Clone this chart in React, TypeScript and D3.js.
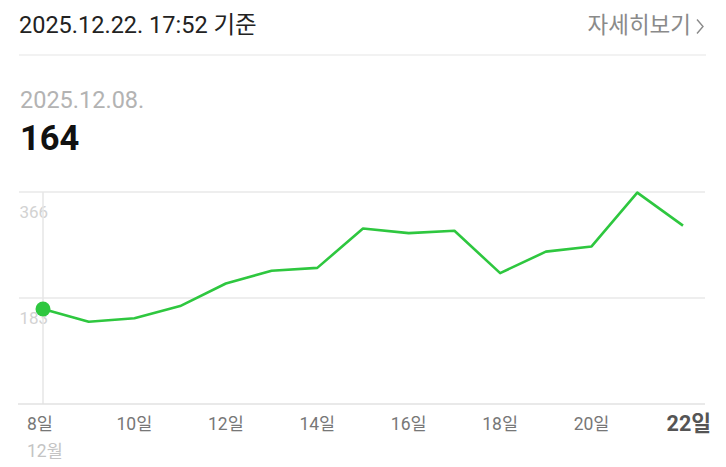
import React from "react";
import * as d3 from "d3";

const days = [8, 9, 10, 11, 12, 13, 14, 15, 16, 17, 18, 19, 20, 21, 22];
const values = [164, 142, 148, 169, 208, 230, 235, 303, 295, 299, 226, 263, 272, 365, 308];
const tickDays = [8, 10, 12, 14, 16, 18, 20, 22];
const yTicks = [183, 366];
const headerText = "2025.12.22. 17:52 기준";
const moreText = "자세히보기";
const selDate = "2025.12.08.";
const selValue = "164";
const monthLabel = "12월";

const W = 726;
const H = 467;
const FONT = "Roboto, 'Noto Sans CJK KR', sans-serif";

export default function App() {
  const x = d3.scaleLinear().domain([8, 22]).range([43, 683]);
  const y = d3.scaleLinear().domain([0, 366]).range([404, 192]);
  const line = d3
    .line<number>()
    .x((_, i) => x(days[i]))
    .y((v) => y(v));
  const pts = values;
  return (
    <svg
      width={W}
      height={H}
      style={{ position: "absolute", left: 0, top: 0, background: "#fff" }}
      fontFamily={FONT}
    >
      <text x={19} y={33} fontSize={23.5} fill="#222">{headerText}</text>
      <text x={691} y={33} fontSize={22.5} fill="#8a8a8a" textAnchor="end">{moreText}</text>
      <path d="M697,19.5 L703,26.5 L697,33.5" fill="none" stroke="#8a8a8a" strokeWidth={1.4} />
      <line x1={19} x2={706} y1={55} y2={55} stroke="#eeeeee" strokeWidth={1.5} />

      <text x={20} y={107.5} fontSize={23.5} fill="#b3b3b3">{selDate}</text>
      <text x={20} y={150} fontSize={34.5} fontWeight="bold" fill="#111">{selValue}</text>

      {yTicks.map((t) => (
        <g key={t}>
          <line x1={19} x2={705} y1={y(t)} y2={y(t)} stroke="#e8e8e8" strokeWidth={1.5} />
          <text x={19.5} y={y(t) + 26} fontSize={17} fill="#d2d2d2">{t}</text>
        </g>
      ))}
      <line x1={x(8)} x2={x(8)} y1={y(366)} y2={y(0)} stroke="#e6e6e6" strokeWidth={1.5} />
      <line x1={18} x2={705} y1={y(0)} y2={y(0)} stroke="#e2e2e2" strokeWidth={1.5} />

      <path d={line(pts) || ""} fill="none" stroke="#2ec73f" strokeWidth={2.6} strokeLinejoin="round" />
      <circle cx={x(days[0])} cy={y(values[0])} r={7.5} fill="#2ec73f" />

      {tickDays.map((d, i) => {
        const first = i === 0;
        const last = i === tickDays.length - 1;
        return (
          <text
            key={d}
            x={first ? 27 : last ? 711 : x(d)}
            y={last ? 431 : 430}
            fontSize={last ? 21.5 : 17.5}
            fontWeight={last ? "bold" : "normal"}
            fill={last ? "#555" : "#777"}
            textAnchor={first ? "start" : last ? "end" : "middle"}
          >
            {d}일
          </text>
        );
      })}
      <text x={27} y={457} fontSize={17.5} fill="#c4c4c4">{monthLabel}</text>
    </svg>
  );
}
